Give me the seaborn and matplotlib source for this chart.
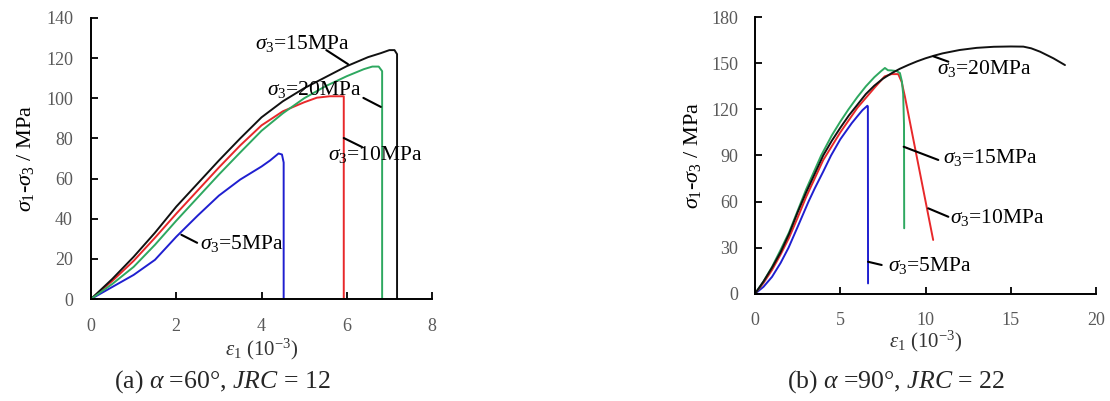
import matplotlib
matplotlib.use("Agg")
import matplotlib.pyplot as plt
import seaborn as sns
import pandas as pd

# ---- (a) alpha = 60 deg, JRC = 12 : axial strain (1e-3) vs deviatoric stress (MPa)
a_eps_5 = [0, 0.5, 1, 1.5, 2, 2.5, 3, 3.5, 4, 4.2, 4.4, 4.48, 4.52, 4.52]
a_sig_5 = [0, 6, 12, 19.5, 31, 41.5, 51.5, 59.5, 66, 69, 72.5, 72, 68, 0]
a_eps_10 = [0, 0.5, 1, 1.5, 2, 2.5, 3, 3.5, 4, 4.5, 5, 5.3, 5.6, 5.93, 5.93]
a_sig_10 = [0, 9, 19, 30.5, 42.5, 54, 65.5, 76.5, 86.5, 93.5, 98, 100.3, 101, 101, 0]
a_eps_15 = [0, 0.5, 1, 1.5, 2, 2.5, 3, 3.5, 4, 4.5, 5, 5.5, 6, 6.5, 6.8, 7.0, 7.12, 7.18, 7.18]
a_sig_15 = [0, 10, 21, 33, 46, 57.5, 69, 80, 90.5, 98.5, 105, 110.5, 116, 120.5, 122.5, 124,
            124, 122, 0]
a_eps_20 = [0, 0.5, 1, 1.5, 2, 2.5, 3, 3.5, 4, 4.5, 5, 5.5, 6, 6.4, 6.6, 6.75, 6.83, 6.83]
a_sig_20 = [0, 7.5, 16, 27, 39, 50.5, 62, 73, 83.8, 92.5, 100, 106, 111, 114.5, 115.8, 115.8,
            113.5, 0]

# ---- (b) alpha = 90 deg, JRC = 22
b_eps_5 = [0, 0.5, 1, 1.5, 1.97, 2.5, 3.14, 3.5, 4, 4.46, 5, 5.67, 6, 6.3, 6.59, 6.62, 6.63]
b_sig_5 = [0, 4.5, 11, 20, 30, 43.5, 60, 68.5, 79.5, 90, 100.5, 111, 115.5, 119.5, 122.4, 122, 6.7]
b_eps_10 = [0, 0.5, 1, 1.5, 2, 2.5, 3, 4, 5, 6, 7, 7.6, 8, 8.4, 8.6, 8.79, 10.45]
b_sig_10 = [0, 7, 15.5, 25.5, 36.5, 49.5, 63, 87, 105, 121, 134, 141.5, 143, 143, 138, 128.5, 35]
b_eps_15 = [0, 0.5, 1, 1.5, 2, 2.5, 3, 3.88, 4.5, 5, 5.48, 6, 6.5, 7, 7.4, 7.62, 7.8, 8.0, 8.3,
            8.5, 8.62, 8.69, 8.74, 8.75]
b_sig_15 = [0, 8, 17.5, 28.5, 40, 54, 68, 90, 103, 112, 120, 128, 135, 141, 145, 147, 145.5,
            145.4, 145, 143.7, 138, 130, 110, 42.6]
b_eps_20 = [0, 0.5, 1, 1.5, 2, 2.5, 3, 3.5, 4, 4.5, 5, 5.5, 6, 6.5, 7, 7.5, 8, 8.5, 9, 9.5,
            10, 10.5, 11, 12, 13, 14, 15, 15.74, 16.2, 16.72, 17.5, 18.18]
b_sig_20 = [0, 8, 17, 27, 39, 53, 66, 78, 90, 99.5, 108, 116, 123, 130, 135.5, 140, 143.5,
            146.5, 149, 151.3, 153.3, 155, 156.5, 158.7, 160.1, 160.8, 161, 160.9, 159.8, 157.6,
            153.3, 148.9]

pressures = ["5MPa", "10MPa", "15MPa", "20MPa"]
colors_a = {"5MPa": "#1f1fd0", "10MPa": "#e8282a", "15MPa": "#111111", "20MPa": "#2ea860"}
colors_b = {"5MPa": "#1f1fd0", "10MPa": "#e8282a", "15MPa": "#2ea860", "20MPa": "#111111"}

# label text anchor (left, vertical centre) and leader segment per curve
a_labels = {
    "15MPa": ((3.85, 127.5), (5.52, 124.0), (6.03, 117.0)),
    "20MPa": ((4.13, 104.4), (6.39, 100.2), (6.80, 95.7)),
    "10MPa": ((5.56, 72.0), (5.93, 80.2), (6.36, 75.7)),
    "5MPa": ((2.56, 27.7), (2.12, 32.0), (2.49, 28.0)),
}
b_labels = {
    "20MPa": ((10.67, 146.6), (10.46, 154.6), (11.34, 151.1)),
    "15MPa": ((11.03, 88.7), (8.72, 95.7), (10.75, 87.1)),
    "10MPa": ((11.44, 49.6), (10.16, 55.6), (11.34, 50.1)),
    "5MPa": ((7.80, 18.4), (6.63, 20.8), (7.43, 18.7)),
}


def long_frame(eps_lists, sig_lists):
    rows = []
    for p, e, s in zip(pressures, eps_lists, sig_lists):
        for i, (x, y) in enumerate(zip(e, s)):
            rows.append({"p": p, "i": i, "eps": x, "sig": y})
    return pd.DataFrame(rows)


df_a = long_frame([a_eps_5, a_eps_10, a_eps_15, a_eps_20],
                  [a_sig_5, a_sig_10, a_sig_15, a_sig_20])
df_b = long_frame([b_eps_5, b_eps_10, b_eps_15, b_eps_20],
                  [b_sig_5, b_sig_10, b_sig_15, b_sig_20])

sns.set_style("ticks")
plt.rcParams["font.family"] = ["Liberation Serif", "DejaVu Serif"]
plt.rcParams["mathtext.fontset"] = "custom"
plt.rcParams["mathtext.rm"] = "Liberation Serif"
plt.rcParams["mathtext.it"] = "Liberation Serif:italic"
plt.rcParams["mathtext.bf"] = "Liberation Serif:bold"
plt.rcParams["lines.solid_joinstyle"] = "round"

W, H = 1110, 401
fig = plt.figure(figsize=(W / 100, H / 100), dpi=100)
ax_a = fig.add_axes([91 / W, 1 - 299 / H, (432 - 91) / W, (299 - 18) / H])
ax_b = fig.add_axes([755 / W, 1 - 293.7 / H, (1096 - 755) / W, (293.7 - 17.3) / H])

tick_grey = "#595959"


def draw_panel(ax, df, cmap, labels, xlim, xticks, ylim, yticks, xpad, ypad, ylpad, xlpad):
    for p in pressures:
        sub = df[df["p"] == p]
        sns.lineplot(data=sub, x="eps", y="sig", sort=False, estimator=None,
                     color=cmap[p], lw=1.4, ax=ax, legend=False)
    for p, ((tx, ty), (x0, y0), (x1, y1)) in labels.items():
        ax.plot([x0, x1], [y0, y1], color="black", lw=1.5)
        ax.text(tx, ty, r"$\sigma_3$=" + p, fontsize=15.5, ha="left",
                va="center", color="black")
    ax.set_xlim(*xlim)
    ax.set_ylim(*ylim)
    ax.set_xticks(xticks)
    ax.set_yticks(yticks)
    sns.despine(ax=ax)
    for s in ("left", "bottom"):
        ax.spines[s].set_linewidth(1.4)
        ax.spines[s].set_color("black")
    ax.tick_params(axis="both", direction="in", length=5, width=1.3,
                   labelsize=13, labelcolor=tick_grey, color="black")
    ax.tick_params(axis="x", pad=xpad)
    ax.tick_params(axis="y", pad=ypad)
    ax.set_xlabel(r"$\varepsilon_1$ (10$^{-3}$)", fontsize=15, color="#333333", labelpad=xlpad)
    ax.set_ylabel(r"$\sigma_1$-$\sigma_3$ / MPa", fontsize=16, color="black", labelpad=ylpad)
    ax.set_facecolor("white")


draw_panel(ax_a, df_a, colors_a, a_labels, (0, 8), [0, 2, 4, 6, 8],
           (0, 140), list(range(0, 141, 20)), 14, 13, 7, 1)
draw_panel(ax_b, df_b, colors_b, b_labels, (0, 20), [0, 5, 10, 15, 20],
           (0, 180), list(range(0, 181, 30)), 13, 12, 6, 0)

fig.text(222 / W, 1 - 382 / H, r"(a) $\alpha$ =60°, $JRC$ = 12",
         ha="center", va="center", fontsize=18.5)
fig.text(896 / W, 1 - 382 / H, r"(b) $\alpha$ =90°, $JRC$ = 22",
         ha="center", va="center", fontsize=18.5)

fig.savefig("out.png", dpi=100, facecolor="white")
